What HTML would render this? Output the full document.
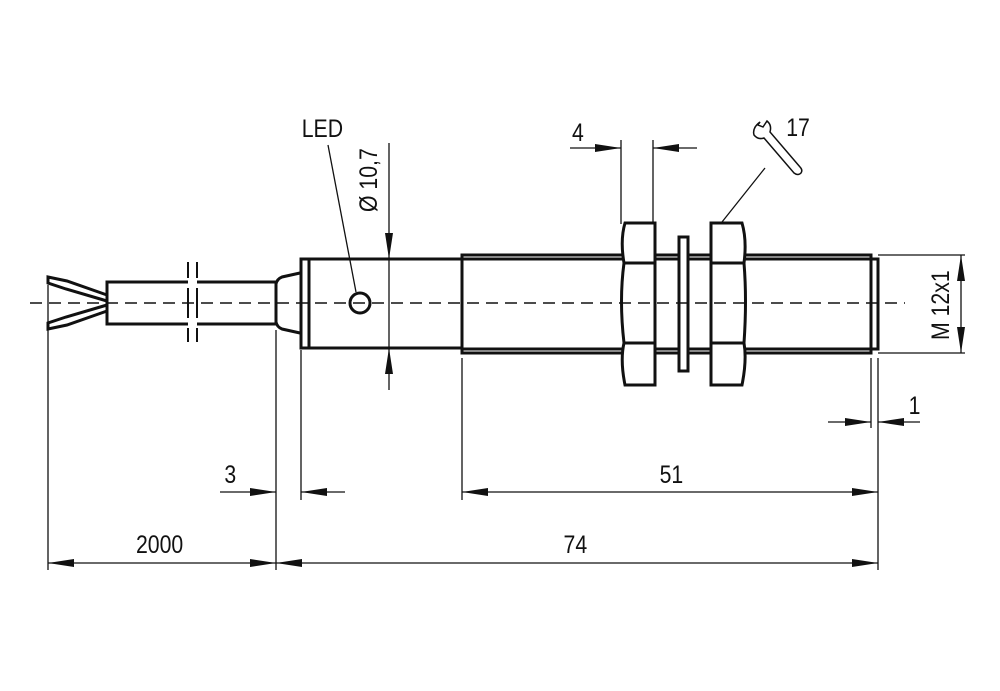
<!DOCTYPE html>
<html><head><style>html,body{margin:0;padding:0;background:#fff}svg{display:block}text{font-family:"Liberation Sans",sans-serif;fill:#111}</style></head>
<body>
<svg width="1000" height="691" viewBox="0 0 1000 691" xmlns="http://www.w3.org/2000/svg">
<g stroke="#111" fill="none" stroke-width="3">
<!-- cable -->
<path d="M188 282H107V324H188M197 282H276V324H197"/>
<path d="M276 284Q277 279 282 277L300 273M276 322Q277 327 282 329L300 333M276 282V324"/>
<!-- wires -->
<path d="M107 295L67 281L48 277L48 283L66 289L107 301"/>
<path d="M107 305L66 317L48 323L48 329L67 325L107 311"/>
<!-- body -->
<rect x="301" y="259" width="161" height="89"/>
<line x1="309" y1="259" x2="309" y2="348"/>
<circle cx="360" cy="303" r="10"/>
<!-- thread -->
<path d="M462 255H871V353H462Z"/>
<path d="M462 259H871M462 349H871"/>
<rect x="871" y="259" width="7" height="90"/>
<!-- nuts -->
<path d="M625 223H655V385H625Q620 360 624 343Q619 300 624 263Q620 240 625 223Z" fill="#fff"/>
<path d="M623 263H655M623 343H655"/>
<rect x="679" y="237" width="9" height="134" fill="#fff"/>
<path d="M711 223H742Q747 240 744 263Q747 300 744 343Q747 360 742 385H711Z" fill="#fff"/>
<path d="M711 263H745M711 343H745"/>
</g>
<g stroke="#111" stroke-width="2">
<path d="M188 262V278M197 262V278M188 328V342M197 328V342M188 288V318M197 288V318"/>
</g>
<!-- centerline -->
<line x1="30" y1="303" x2="905" y2="303" stroke="#111" stroke-width="1.5" stroke-dasharray="12,7"/>
<g stroke="#111" stroke-width="1.3" fill="none">
<path d="M48 285V570M276 330V570M301 350V500M462 358V500M878 358V570M871 358V428M878 358V428"/>
<path d="M621 140V224M653 140V224M878 255H965M878 353H965"/>
<path d="M48 563H878M462 492H878M220 492H276M301 492H345M570 148H621M653 148H697M828 422H871M878 422H920M961 255V353M389 143V390"/>
<path d="M328 145L356 292M765 168L722 222"/>
</g>
<g fill="#111">
<path d="M48 563l26-4v8zM276 563l-26-4v8zM276 563l26-4v8zM878 563l-26-4v8z"/>
<path d="M462 492l26-4v8zM878 492l-26-4v8zM276 492l-26-4v8zM301 492l26-4v8z"/>
<path d="M621 148l-26-4v8zM653 148l26-4v8zM871 422l-26-4v8zM878 422l26-4v8z"/>
<path d="M961 255l-4 26h8zM961 353l-4-26h8zM389 259l-4-26h8zM389 348l-4 26h8z"/>
</g>
<!-- wrench -->
<path d="M760 122q-8 6-6 13q4 5 10 3l30 35q4 3 7 0q2-3-1-6l-30-35q2-7-3-11l-4 6l-5-2z" fill="none" stroke="#111" stroke-width="1.5"/>
<g font-size="25">
<g transform="scale(0.85,1)">
<text x="355" y="137">LED</text>
<text x="925" y="136">17</text>
<text x="673" y="141">4</text>
<text x="1069" y="414">1</text>
<text x="264" y="483">3</text>
<text x="776" y="483">51</text>
<text x="160" y="553">2000</text>
<text x="663" y="553">74</text>
</g>
<text transform="translate(377,212) rotate(-90) scale(0.85,1)">Ø 10,7</text>
<text transform="translate(949,340) rotate(-90) scale(0.85,1)">M 12x1</text>
</g>
</svg>
</body></html>
